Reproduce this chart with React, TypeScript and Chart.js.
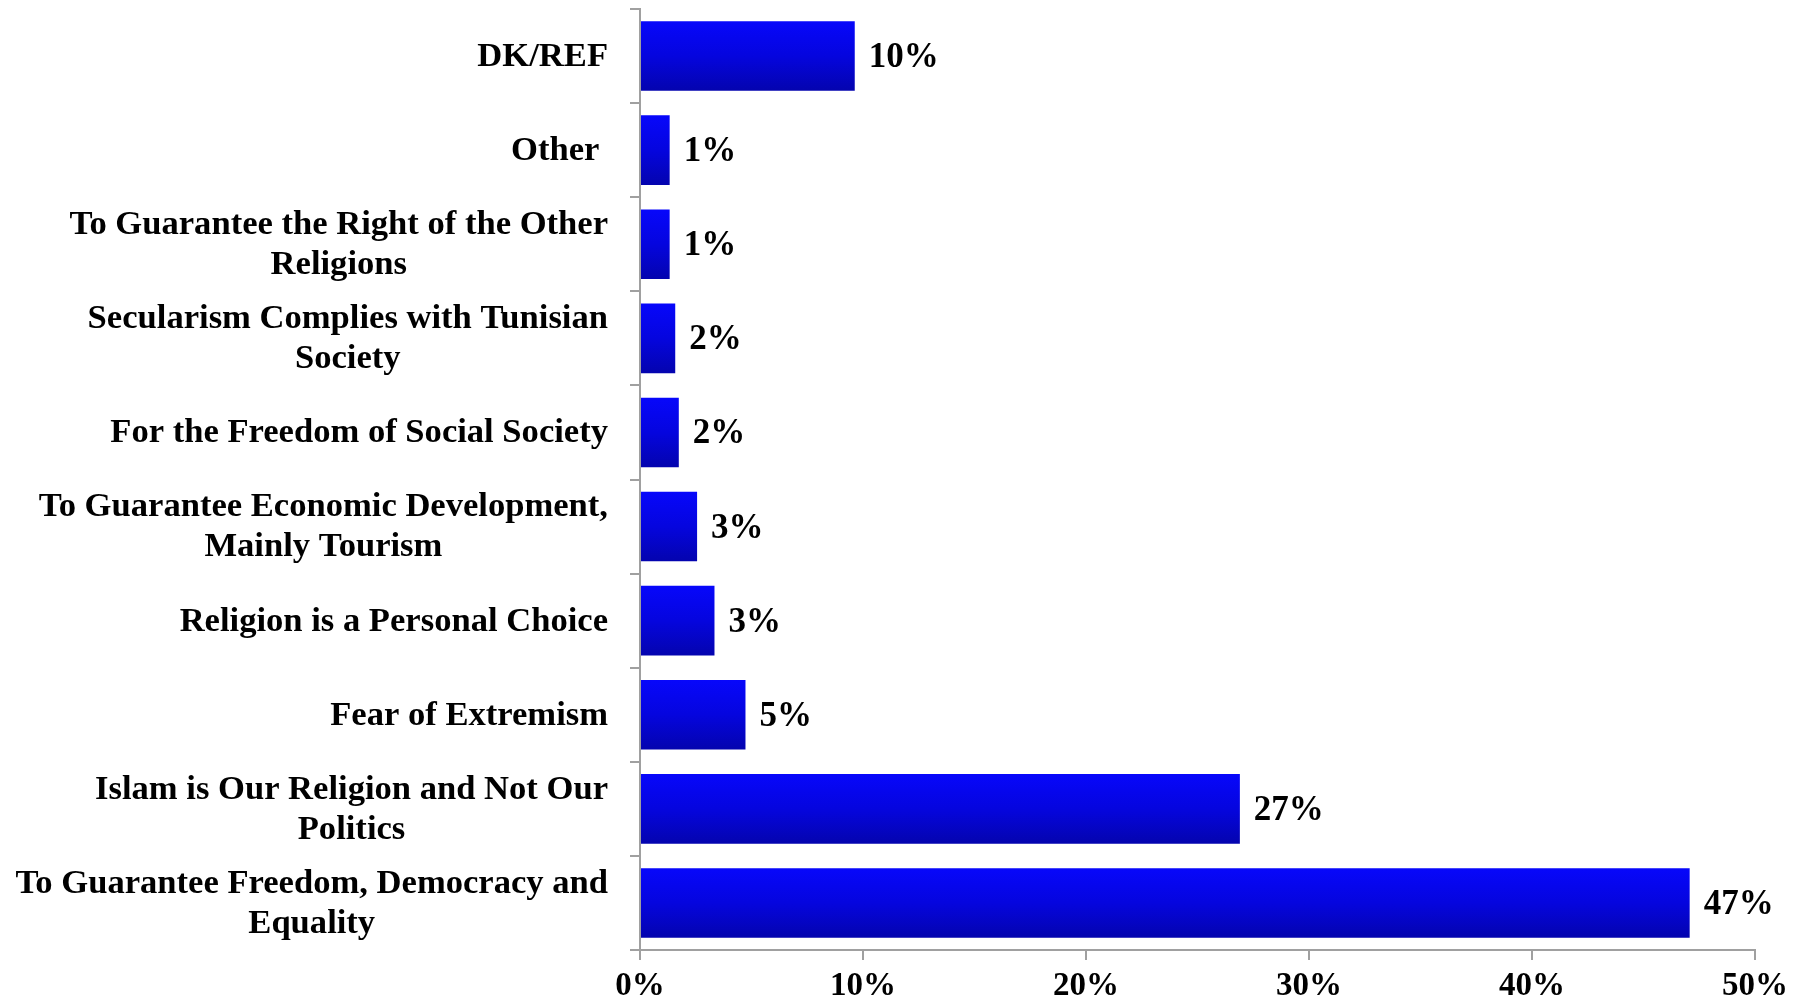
import React, { useEffect, useRef } from "react";
import { Chart, registerables } from "chart.js";

Chart.register(...registerables);

const categories: (string | string[])[] = [
  "DK/REF",
  "Other ",
  ["To Guarantee the Right of the Other", "Religions"],
  ["Secularism Complies with Tunisian", "Society"],
  "For the Freedom of Social Society",
  ["To Guarantee Economic Development,", "Mainly Tourism"],
  "Religion is a Personal Choice",
  "Fear of Extremism",
  ["Islam is Our Religion and Not Our", "Politics"],
  ["To Guarantee Freedom, Democracy and", "Equality"],
];

const values = [9.63, 1.33, 1.33, 1.58, 1.74, 2.56, 3.34, 4.73, 26.9, 47.07];

const xTickValues = [0, 10, 20, 30, 40, 50];

const FONT_FAMILY = "'Liberation Serif', 'Times New Roman', serif";
const AXIS_COLOR = "#a0a0a0";

const valueLabelPlugin = {
  id: "valueLabels",
  afterDatasetsDraw(chart: any) {
    const ctx = chart.ctx;
    const meta = chart.getDatasetMeta(0);
    ctx.save();
    ctx.font = `bold 35px ${FONT_FAMILY}`;
    ctx.fillStyle = "#000";
    ctx.textAlign = "left";
    ctx.textBaseline = "middle";
    meta.data.forEach((el: any, i: number) => {
      ctx.fillText(Math.round(values[i]) + "%", el.x + 14, el.y + 2);
    });
    ctx.restore();
  },
};

const categoryLabelPlugin = {
  id: "categoryLabels",
  afterDraw(chart: any) {
    const ctx = chart.ctx;
    const ys = chart.scales.y;
    const rightEdge = ys.right - 32;
    const lh = 40;
    ctx.save();
    ctx.font = `bold 34.6px ${FONT_FAMILY}`;
    ctx.fillStyle = "#000";
    ctx.textAlign = "center";
    ctx.textBaseline = "middle";
    categories.forEach((cat, i) => {
      const lines = Array.isArray(cat) ? cat : [cat];
      const maxW = Math.max(...lines.map((l) => ctx.measureText(l).width));
      const cx = rightEdge - maxW / 2;
      const yc = ys.getPixelForValue(i);
      const y0 = yc - ((lines.length - 1) * lh) / 2;
      lines.forEach((l, j) => ctx.fillText(l, cx, y0 + j * lh + 1));
    });
    ctx.restore();
  },
};

export default function App() {
  const ref = useRef<HTMLCanvasElement | null>(null);

  useEffect(() => {
    if (!ref.current) return;
    const chart = new Chart(ref.current, {
      type: "bar",
      data: {
        labels: categories as any,
        datasets: [
          {
            data: values,
            backgroundColor: (c: any) => {
              const ch = c.chart;
              const ys = ch.scales && ch.scales.y;
              if (!ys || c.dataIndex === undefined) return "#0606e0";
              const y = ys.getPixelForValue(c.dataIndex);
              if (!isFinite(y)) return "#0606e0";
              const half = 35;
              const g = ch.ctx.createLinearGradient(0, y - half, 0, y + half);
              g.addColorStop(0, "#0707fb");
              g.addColorStop(0.5, "#0505de");
              g.addColorStop(1, "#0404ae");
              return g;
            },
            borderWidth: 0,
            categoryPercentage: 1,
            barPercentage: 0.74,
          },
        ],
      },
      options: {
        indexAxis: "y",
        animation: false,
        responsive: true,
        maintainAspectRatio: false,
        layout: { padding: { left: 0, right: 52, top: 9, bottom: 0 } },
        plugins: {
          legend: { display: false },
          tooltip: { enabled: false },
        },
        scales: {
          x: {
            min: 0,
            max: 50,
            afterBuildTicks: (scale: any) => {
              scale.ticks = xTickValues.map((v) => ({ value: v }));
            },
            afterFit: (scale: any) => {
              scale.height = 55;
            },
            ticks: {
              padding: 7,
              color: "#000",
              font: { family: FONT_FAMILY, size: 33, weight: "bold" },
              callback: (v: any) => v + "%",
              maxRotation: 0,
            },
            grid: {
              drawOnChartArea: false,
              drawTicks: true,
              tickLength: 10,
              color: AXIS_COLOR,
              lineWidth: 2,
            },
            border: { color: AXIS_COLOR, width: 2 },
          },
          y: {
            afterFit: (scale: any) => {
              scale.width = 640;
            },
            ticks: { display: false },
            grid: {
              offset: true,
              drawOnChartArea: false,
              drawTicks: true,
              tickLength: 10,
              color: AXIS_COLOR,
              lineWidth: 2,
            },
            border: { color: AXIS_COLOR, width: 2 },
          },
        },
      },
      plugins: [valueLabelPlugin, categoryLabelPlugin],
    } as any);
    return () => chart.destroy();
  }, []);

  return (
    <div
      style={{
        position: "absolute",
        left: 0,
        top: 0,
        width: 1807,
        height: 1005,
        background: "#fff",
      }}
    >
      <canvas ref={ref} />
    </div>
  );
}
